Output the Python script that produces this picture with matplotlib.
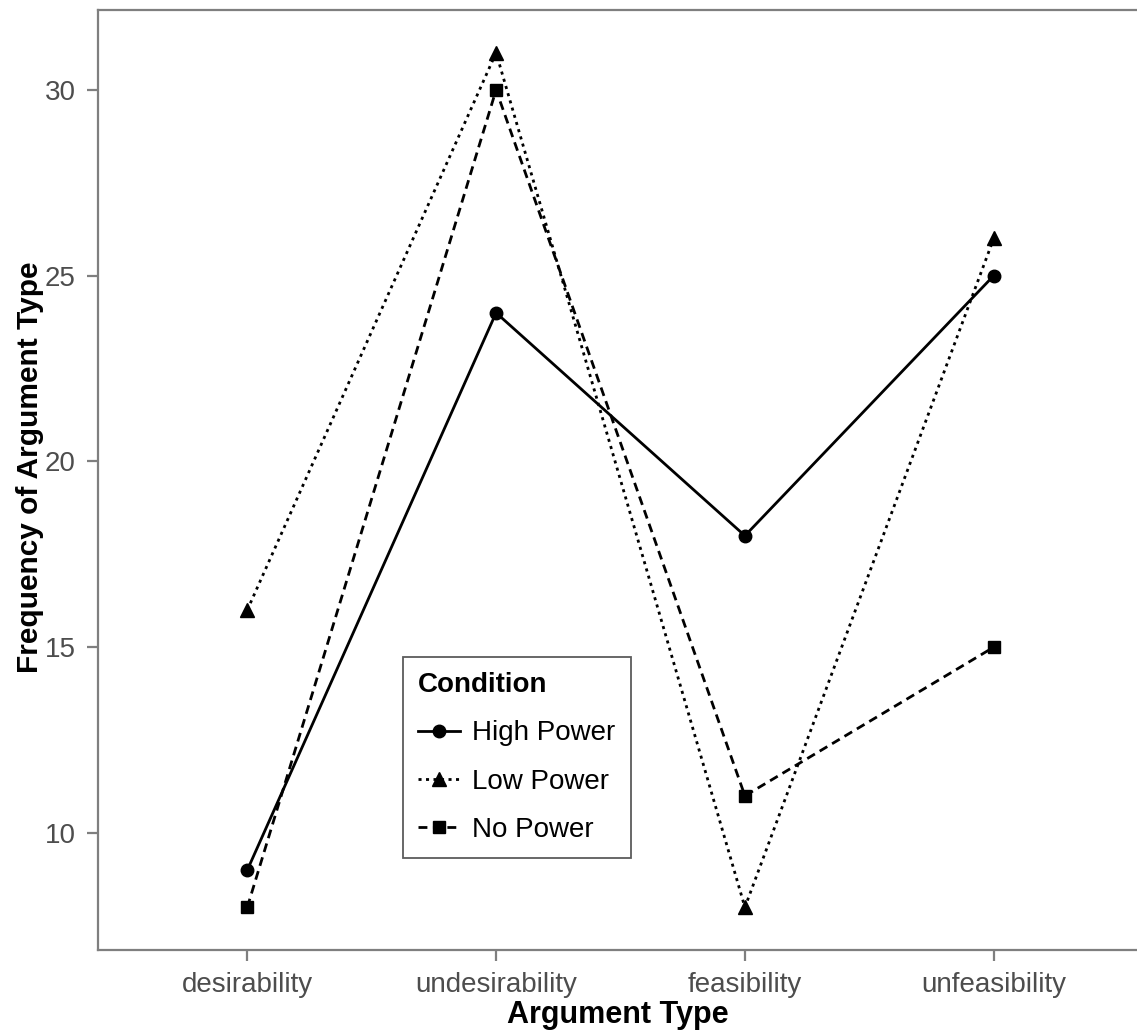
import numpy as np
import matplotlib
matplotlib.use("Agg")
import matplotlib.pyplot as plt

plt.rcParams["font.family"] = ["Liberation Sans", "DejaVu Sans"]

# data
categories = ["desirability", "undesirability", "feasibility", "unfeasibility"]
high_power = [9, 24, 18, 25]
low_power = [16, 31, 8, 26]
no_power = [8, 30, 11, 15]
y_ticks = [10, 15, 20, 25, 30]

W, H = 1137, 1034
fig = plt.figure(figsize=(W / 100, H / 100), dpi=100)
ax = fig.add_axes([98 / W, 84 / H, 1045 / W, 940 / H])

x = np.arange(len(categories))
lw = 2.0
ax.plot(x, high_power, color="black", lw=lw, linestyle="-", marker="o",
        markersize=9, label="High Power")
ax.plot(x, low_power, color="black", lw=lw, linestyle=(0, (1.1, 1.6)), marker="^",
        markersize=9.5, label="Low Power")
ax.plot(x, no_power, color="black", lw=lw, linestyle=(0, (3.2, 2.0)), marker="s",
        markersize=8, label="No Power")

# ggplot-style expansion
ax.set_xlim(-0.6, len(categories) - 0.4)
lo, hi = 8, 31
pad = (hi - lo) * 0.05
ax.set_ylim(lo - pad, hi + pad)

ax.set_xticks(x)
ax.set_xticklabels(categories)
ax.set_yticks(y_ticks)

grey = "#7f7f7f"
for side in ["left", "bottom", "top"]:
    ax.spines[side].set_color(grey)
    ax.spines[side].set_linewidth(1.6)
ax.spines["right"].set_visible(False)
ax.tick_params(axis="both", colors=grey, width=1.6, length=8, labelsize=20,
               labelcolor="#4d4d4d", pad=8)

ax.set_xlabel("Argument Type", fontsize=22, fontweight="bold")
ax.set_ylabel("Frequency of Argument Type", fontsize=21.5, fontweight="bold")
ax.xaxis.set_label_coords(0.5 - 2.5 / 1045, -50 / 940)
ax.yaxis.set_label_coords(-54 / 1045, (950 - 467) / 940)

leg = ax.legend(title="Condition", loc="upper left", bbox_to_anchor=(305 / 1045, 293 / 940),
                borderaxespad=0, fontsize=20, title_fontproperties={"weight": "bold", "size": 20},
                frameon=True, fancybox=False, handlelength=1.5, handletextpad=0.45,
                labelspacing=0.8, borderpad=0.55, alignment="left")
leg.get_frame().set_edgecolor("#333333")
leg.get_frame().set_linewidth(1.3)

fig.savefig("out.png", dpi=100)
